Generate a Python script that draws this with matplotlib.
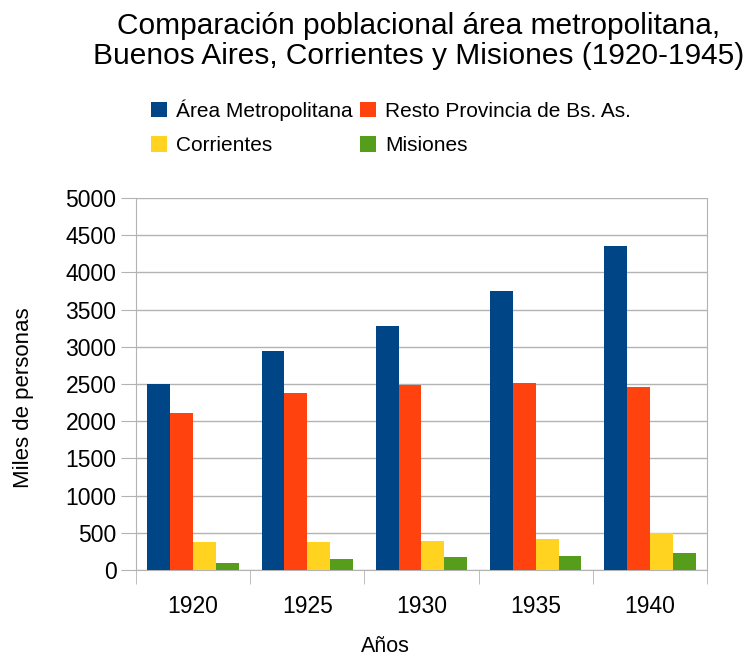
import numpy as np
import matplotlib.pyplot as plt

plt.rcParams['font.family'] = ['Liberation Sans', 'DejaVu Sans']

years = ['1920', '1925', '1930', '1935', '1940']
area_metro = [2500, 2945, 3280, 3750, 4355]
resto_bsas = [2115, 2380, 2485, 2510, 2460]
corrientes = [375, 375, 390, 415, 495]
misiones = [95, 150, 175, 190, 225]

series = [area_metro, resto_bsas, corrientes, misiones]
labels = ['Área Metropolitana', 'Resto Provincia de Bs. As.', 'Corrientes', 'Misiones']
colors = ['#004586', '#ff420e', '#ffd320', '#579d1c']

fig = plt.figure(figsize=(7.51, 6.58), dpi=100)
ax = fig.add_axes([0.181, 0.1337, 0.7604, 0.5653])

x = np.arange(len(years))
w = 0.2
handles = []
for i, (vals, lab, col) in enumerate(zip(series, labels, colors)):
    h = ax.bar(x - 0.3 + i * w, vals, w, color=col, label=lab, zorder=3)
    handles.append(h)

ax.set_xlim(-0.5, len(years) - 0.5)
ax.set_ylim(0, 5000)
ax.set_yticks(np.arange(0, 5001, 500))
ax.set_xticks(x)
ax.set_xticklabels(years)
ax.set_xticks(np.arange(-0.5, len(years), 1), minor=True)

grid_c = '#b3b3b3'
ax.yaxis.grid(True, color=grid_c, lw=1, zorder=0)
for s in ['left', 'right', 'bottom']:
    ax.spines[s].set_color(grid_c)
ax.spines['top'].set_visible(False)

ax.tick_params(axis='y', length=11, color=grid_c, labelsize=16.5, pad=3)
ax.tick_params(axis='x', which='major', length=0, labelsize=16.5, pad=18)
ax.tick_params(axis='x', which='minor', length=10, color=grid_c)

ax.set_ylabel('Miles de personas', fontsize=16)
ax.yaxis.set_label_coords(-0.178, 0.462)
ax.set_xlabel('Años', fontsize=15.5)
ax.xaxis.set_label_coords(0.436, -0.178)

fig.text(0.558, 0.982, 'Comparación poblacional área metropolitana,\nBuenos Aires, Corrientes y Misiones (1920-1945)',
         ha='center', va='top', fontsize=21.5, linespacing=1.12)

# legend fills column-wise, so reorder to get row-wise layout
order = [0, 2, 1, 3]
fig.legend(handles=[handles[i] for i in order], labels=[labels[i] for i in order],
           ncol=2, loc='upper left',
           bbox_to_anchor=(0.19, 0.862), frameon=False, fontsize=15,
           handlelength=0.75, handleheight=0.75, handletextpad=0.45,
           columnspacing=0.35, labelspacing=0.75, borderaxespad=0)

fig.savefig('out.png', dpi=100)
